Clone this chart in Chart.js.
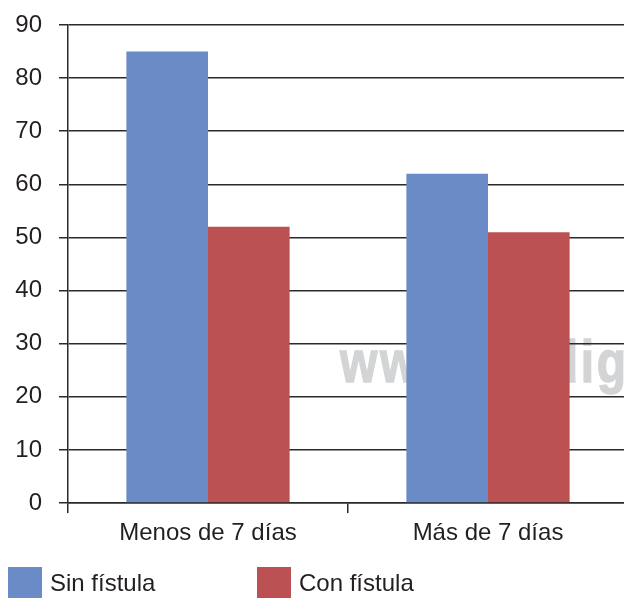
<!DOCTYPE html>
<html>
<head>
<meta charset="utf-8">
<script src="https://cdn.jsdelivr.net/npm/chart.js@4/dist/chart.umd.min.js"></script>
<style>
  html, body { margin: 0; padding: 0; background: #fff; overflow: hidden; }
  #wrap { position: relative; width: 630px; height: 598px; }
  #legend { position: absolute; left: 0; top: 0; width: 630px; height: 598px; pointer-events: none; }
  .li { position: absolute; top: 567px; height: 31px; display: flex; align-items: center;
        font-family: "Liberation Sans", Arial, Helvetica, sans-serif; font-size: 24px; color: #231f20; }
  .sw { width: 34px; height: 31px; margin-right: 8px; }
</style>
</head>
<body>
<div id="wrap">
  <canvas id="c" width="630" height="598"></canvas>
  <div id="legend"></div>
</div>
<script>
const categories = ["Menos de 7 días", "Más de 7 días"];
const seriesNames = ["Sin fístula", "Con fístula"];
const sinFistula = [85, 62];
const conFistula = [52, 51];
const yTicks = [0, 10, 20, 30, 40, 50, 60, 70, 80, 90];

const colors = ["#6A8BC6", "#BB5152"];
const textColor = "#231f20";
const gridColor = "#2a2a2a";
const fontFam = '"Liberation Sans", Arial, Helvetica, sans-serif';

const watermark = {
  id: 'watermark',
  beforeDraw(chart) {
    const ctx = chart.ctx;
    ctx.save();
    ctx.translate(340, 382);
    ctx.scale(0.8, 1);
    ctx.font = 'bold 60px ' + fontFam;
    ctx.fillStyle = '#d3d4d5';
    ctx.strokeStyle = '#d3d4d5';
    ctx.lineWidth = 1.5;
    ctx.textBaseline = 'alphabetic';
    ctx.textAlign = 'left';
    try { ctx.letterSpacing = '3.3px'; } catch (e) {}
    ctx.fillText('www.medigraphic.org.mx', 0, 0);
    ctx.strokeText('www.medigraphic.org.mx', 0, 0);
    ctx.restore();
  }
};

new Chart(document.getElementById('c'), {
  type: 'bar',
  data: {
    labels: categories,
    datasets: [
      { label: seriesNames[0], data: sinFistula, backgroundColor: colors[0] },
      { label: seriesNames[1], data: conFistula, backgroundColor: colors[1] }
    ]
  },
  options: {
    responsive: false,
    animation: false,
    layout: { padding: { top: 25, right: 2, bottom: 50, left: 0 } },
    plugins: { legend: { display: false }, tooltip: { enabled: false } },
    datasets: { bar: { categoryPercentage: 0.583, barPercentage: 1.0 } },
    scales: {
      x: {
        offset: true,
        grid: { offset: true, drawOnChartArea: false, drawTicks: true, tickLength: 10, color: gridColor, lineWidth: 1.5 },
        border: { display: true, color: gridColor, width: 1.5 },
        ticks: { color: textColor, font: { family: fontFam, size: 24 }, padding: 6 },
        afterFit(s) { s.height = 45; s.paddingLeft = 0; s.paddingRight = 0; }
      },
      y: {
        min: 0, max: 90,
        afterBuildTicks(s) { s.ticks = yTicks.map(v => ({ value: v })); },
        grid: { color: gridColor, lineWidth: 1.5, tickLength: 9, drawTicks: true },
        border: { display: true, color: gridColor, width: 1.5 },
        ticks: { color: textColor, font: { family: fontFam, size: 24 }, padding: 17 },
        afterFit(s) { s.width = 68; s.paddingTop = 0; s.paddingBottom = 0; }
      }
    }
  },
  plugins: [watermark]
});

const legendPos = [8, 257];
const lg = document.getElementById('legend');
seriesNames.forEach((n, i) => {
  const d = document.createElement('div');
  d.className = 'li';
  d.style.left = legendPos[i] + 'px';
  d.innerHTML = '<div class="sw" style="background:' + colors[i] + '"></div><span>' + n + '</span>';
  lg.appendChild(d);
});
</script>
</body>
</html>
